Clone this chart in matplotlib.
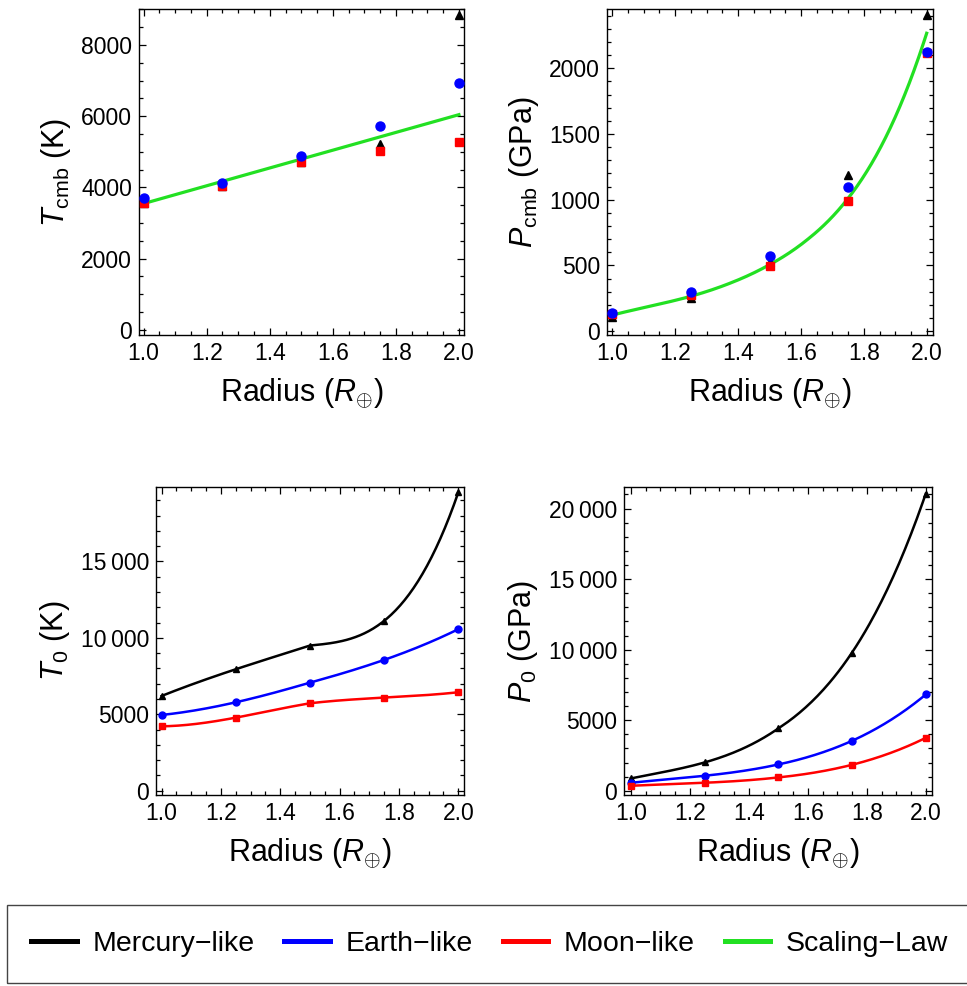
import numpy as np
import matplotlib
matplotlib.use('Agg')
import matplotlib.pyplot as plt
from matplotlib.lines import Line2D
from matplotlib.patches import Rectangle
from matplotlib.ticker import MultipleLocator, FuncFormatter, FormatStrFormatter

plt.rcParams['font.family'] = ['Liberation Sans', 'DejaVu Sans']
plt.rcParams['mathtext.fontset'] = 'custom'
plt.rcParams['mathtext.rm'] = 'Liberation Sans'
plt.rcParams['mathtext.it'] = 'Liberation Sans:italic'

# ---- data ----
radius = [1.0, 1.25, 1.5, 1.75, 2.0]

tcmb_mercury = [3560, 4050, 4705, 5220, 8840]
tcmb_earth = [3695, 4116, 4883, 5734, 6941]
tcmb_moon = [3573, 4041, 4724, 5023, 5285]
tcmb_law_r = [1.0, 1.5, 2.0]
tcmb_law = [3545, 4795, 6043]

pcmb_mercury = [110, 255, 525, 1188, 2406]
pcmb_earth = [140, 300, 570, 1094, 2122]
pcmb_moon = [128, 275, 495, 992, 2114]
pcmb_law_r = [1.0, 1.125, 1.25, 1.375, 1.5, 1.625, 1.75, 1.875, 2.0]
pcmb_law = [122, 192, 265, 365, 505, 705, 1010, 1500, 2266]

t0_mercury = [6200, 7948, 9498, 11114, 19520]
t0_earth = [4956, 5786, 7074, 8559, 10568]
t0_moon = [4214, 4782, 5721, 6092, 6441]

p0_mercury = [874, 2007, 4416, 9799, 21063]
p0_earth = [567, 1063, 1865, 3542, 6824]
p0_moon = [354, 567, 945, 1842, 3754]

BLACK, BLUE, RED, GREEN = 'black', '#0000ff', '#ff0000', '#22e022'


def smooth(xp, yp, num=200):
    # piecewise cubic through neighbouring 4 points (like Mathematica's Interpolation)
    xp = np.asarray(xp, float)
    yp = np.asarray(yp, float)
    n = len(xp)
    xs = np.linspace(xp[0], xp[-1], num)
    if n < 4:
        return xs, np.interp(xs, xp, yp)
    ys = np.empty_like(xs)
    for k, x in enumerate(xs):
        i = min(np.searchsorted(xp, x, side='right') - 1, n - 2)
        j = int(np.clip(i - 1, 0, n - 4))
        px, py = xp[j:j + 4], yp[j:j + 4]
        val = 0.0
        for a in range(4):
            term = py[a]
            for b in range(4):
                if a != b:
                    term *= (x - px[b]) / (px[a] - px[b])
            val += term
        ys[k] = val
    return xs, ys


def ytick_fmt(v, pos):
    v = int(round(v))
    s = str(v)
    if abs(v) >= 10000:
        s = s[:-3] + '\u2009' + s[-3:]
    return s


def style_axes(ax, xlim, ylim, ymaj, ymin):
    ax.set_xlim(*xlim)
    ax.set_ylim(*ylim)
    ax.xaxis.set_major_locator(MultipleLocator(0.2))
    ax.xaxis.set_minor_locator(MultipleLocator(0.05))
    ax.yaxis.set_major_locator(MultipleLocator(ymaj))
    ax.yaxis.set_minor_locator(MultipleLocator(ymin))
    ax.xaxis.set_major_formatter(FormatStrFormatter('%.1f'))
    ax.yaxis.set_major_formatter(FuncFormatter(ytick_fmt))
    ax.tick_params(which='both', direction='in', top=True, right=True,
                   labelsize=16.5, width=0.9)
    ax.tick_params(which='major', length=5, pad=5)
    ax.tick_params(which='minor', length=3)
    for s in ax.spines.values():
        s.set_linewidth(1.0)
    ax.set_xlabel(r'Radius ($R_{\oplus}$)', fontsize=22, labelpad=8)


fig = plt.figure(figsize=(9.67, 9.86), dpi=100)

ax1 = fig.add_axes([0.1437, 0.6602, 0.3361, 0.3306])
ax2 = fig.add_axes([0.6277, 0.6602, 0.3371, 0.3306])
ax3 = fig.add_axes([0.1613, 0.1937, 0.3185, 0.3124])
ax4 = fig.add_axes([0.6453, 0.1937, 0.3185, 0.3124])

# top-left: T_cmb
ax1.plot(tcmb_law_r, tcmb_law, color=GREEN, lw=2.3, zorder=2)
ax1.plot(radius, tcmb_mercury, '^', color=BLACK, ms=6, zorder=3)
ax1.plot(radius, tcmb_moon, 's', color=RED, ms=6, zorder=4)
ax1.plot(radius, tcmb_earth, 'o', color=BLUE, ms=6.5, zorder=5)
style_axes(ax1, (0.985, 2.016), (-150, 9010), 2000, 500)
ax1.set_ylabel(r'$T_{\mathrm{cmb}}$ (K)', fontsize=22, labelpad=6)

# top-right: P_cmb
lx, ly = smooth(pcmb_law_r, pcmb_law)
ax2.plot(lx, ly, color=GREEN, lw=2.3, zorder=2)
ax2.plot(radius, pcmb_mercury, '^', color=BLACK, ms=6, zorder=3)
ax2.plot(radius, pcmb_moon, 's', color=RED, ms=6, zorder=4)
ax2.plot(radius, pcmb_earth, 'o', color=BLUE, ms=6.5, zorder=5)
style_axes(ax2, (0.983, 2.02), (-30, 2450), 500, 100)
ax2.set_ylabel(r'$P_{\mathrm{cmb}}$ (GPa)', fontsize=22, labelpad=6)

# bottom-left: T_0
for vals, col, mk, ms in [(t0_mercury, BLACK, '^', 4), (t0_earth, BLUE, 'o', 5),
                          (t0_moon, RED, 's', 5)]:
    sx, sy = smooth(radius, vals)
    ax3.plot(sx, sy, color=col, lw=1.8)
    ax3.plot(radius, vals, mk, color=col, ms=ms)
style_axes(ax3, (0.981, 2.019), (-280, 19870), 5000, 1000)
ax3.set_ylabel(r'$T_{0}$ (K)', fontsize=22, labelpad=6)

# bottom-right: P_0
for vals, col, mk, ms in [(p0_mercury, BLACK, '^', 4), (p0_earth, BLUE, 'o', 5),
                          (p0_moon, RED, 's', 5)]:
    sx, sy = smooth(radius, vals)
    ax4.plot(sx, sy, color=col, lw=1.8)
    ax4.plot(radius, vals, mk, color=col, ms=ms)
style_axes(ax4, (0.977, 2.021), (-300, 21530), 5000, 1000)
ax4.set_ylabel(r'$P_{0}$ (GPa)', fontsize=22, labelpad=6)

# legend at the bottom (box runs off the right edge, as in the original)
handles = [Line2D([], [], color=c, lw=3.6) for c in (BLACK, BLUE, RED, GREEN)]
labels = ['Mercury\u2212like', 'Earth\u2212like', 'Moon\u2212like', 'Scaling\u2212Law']
fig.legend(handles, labels, ncol=4, loc='center left',
           bbox_to_anchor=(0.007, 0.0426), fontsize=20.5,
           frameon=False, handlelength=1.6, handletextpad=0.55,
           columnspacing=1.05, borderpad=0.85, borderaxespad=0)
fig.patches.append(Rectangle((0.007, 1 - 983 / 986), 1.0, 78 / 986,
                             transform=fig.transFigure, fill=False,
                             edgecolor='#444444', linewidth=1.0))

fig.savefig('out.png', dpi=100)
